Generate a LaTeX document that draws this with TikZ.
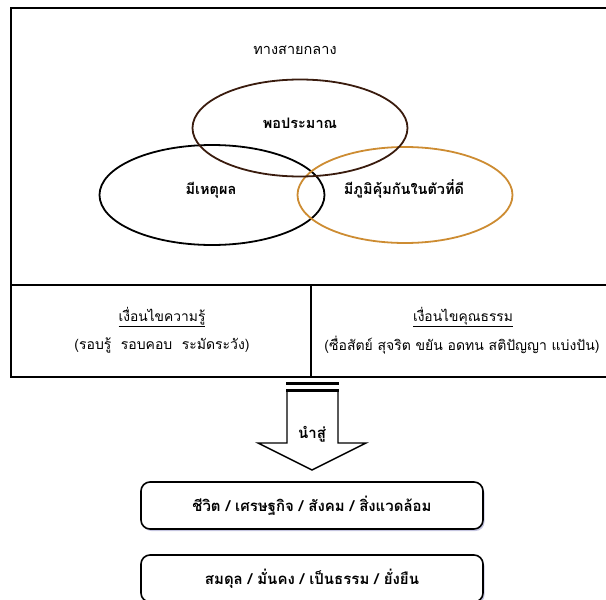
\documentclass[tikz,border=0pt]{standalone}
\usepackage{fontspec}
\setmainfont[Script=Thai]{Loma}
\usetikzlibrary{shapes.geometric,shadows}
\definecolor{ringbrown}{RGB}{58,28,14}
\definecolor{ringgold}{RGB}{205,140,50}
\tikzset{
  ring/.style={ellipse, draw, line width=1.8pt, inner sep=0pt},
  ringtext/.style={font=\bfseries\fontsize{14.5}{16}\selectfont},
  frame/.style={draw, line width=1.8pt},
  head/.style={font=\fontsize{13.8}{16}\selectfont},
  sub/.style={font=\fontsize{14}{16}\selectfont},
  resultbox/.style={draw, line width=1.6pt, rounded corners=9pt, fill=white,
    minimum width=342pt, minimum height=47pt, font=\bfseries\fontsize{15}{17}\selectfont,
    drop shadow={shadow xshift=1.5pt, shadow yshift=-2pt, opacity=0.35, fill=gray!70!blue}},
  blockarrow/.style={draw, line width=1.4pt, fill=white, line join=miter}
}
\begin{document}
\begin{tikzpicture}[x=1pt,y=-1pt]
\useasboundingbox (0,0) rectangle (606,600);
% outer frame
\draw[frame] (11,8) rectangle (614,377);
\draw[frame] (11,285) -- (614,285);
\draw[frame] (311,285) -- (311,377);
% title
\node[font=\fontsize{14.5}{16}\selectfont] (title) at (295,50) {ทางสายกลาง};
% rings
\node[ring, draw=black, minimum width=225pt, minimum height=100pt] (reason) at (212,195) {};
\node[ring, draw=ringgold, minimum width=215pt, minimum height=96pt] (immune) at (405,195) {};
\node[ring, draw=ringbrown, minimum width=215pt, minimum height=97pt] (moderate) at (300,128) {};
\node[ringtext] (tmod) at (300,123) {พอประมาณ};
\node[ringtext] (treason) at (211,190) {มีเหตุผล};
\node[ringtext] (timmune) at (404,189) {มีภูมิคุ้มกันในตัวที่ดี};
% conditions
\node[head] (knowh) at (162,317) {\underline{เงื่อนไขความรู้}};
\node[sub] (knows) at (162,345) {(รอบรู้\ \ รอบคอบ\ \ ระมัดระวัง)};
\node[head] (moralh) at (463,317) {\underline{เงื่อนไขคุณธรรม}};
\node[sub] (morals) at (462,345) {(ซื่อสัตย์ สุจริต ขยัน อดทน สติปัญญา แบ่งปัน)};
% block arrow
\draw[blockarrow] (287,390) -- (287,443) -- (258,443) -- (312,470) -- (366,443) -- (338,443) -- (338,390);
\draw[line width=3pt] (286,383.5) -- (339,383.5);
\draw[line width=3pt] (286,390) -- (339,390);
\node[font=\bfseries\fontsize{15}{17}\selectfont] (lead) at (312,434) {นำสู่};
% result boxes
\node[resultbox] (life) at (312,505.5) {ชีวิต / เศรษฐกิจ / สังคม / สิ่งแวดล้อม};
\node[resultbox] (balance) at (312,578.5) {สมดุล / มั่นคง / เป็นธรรม / ยั่งยืน};
\end{tikzpicture}
\end{document}
